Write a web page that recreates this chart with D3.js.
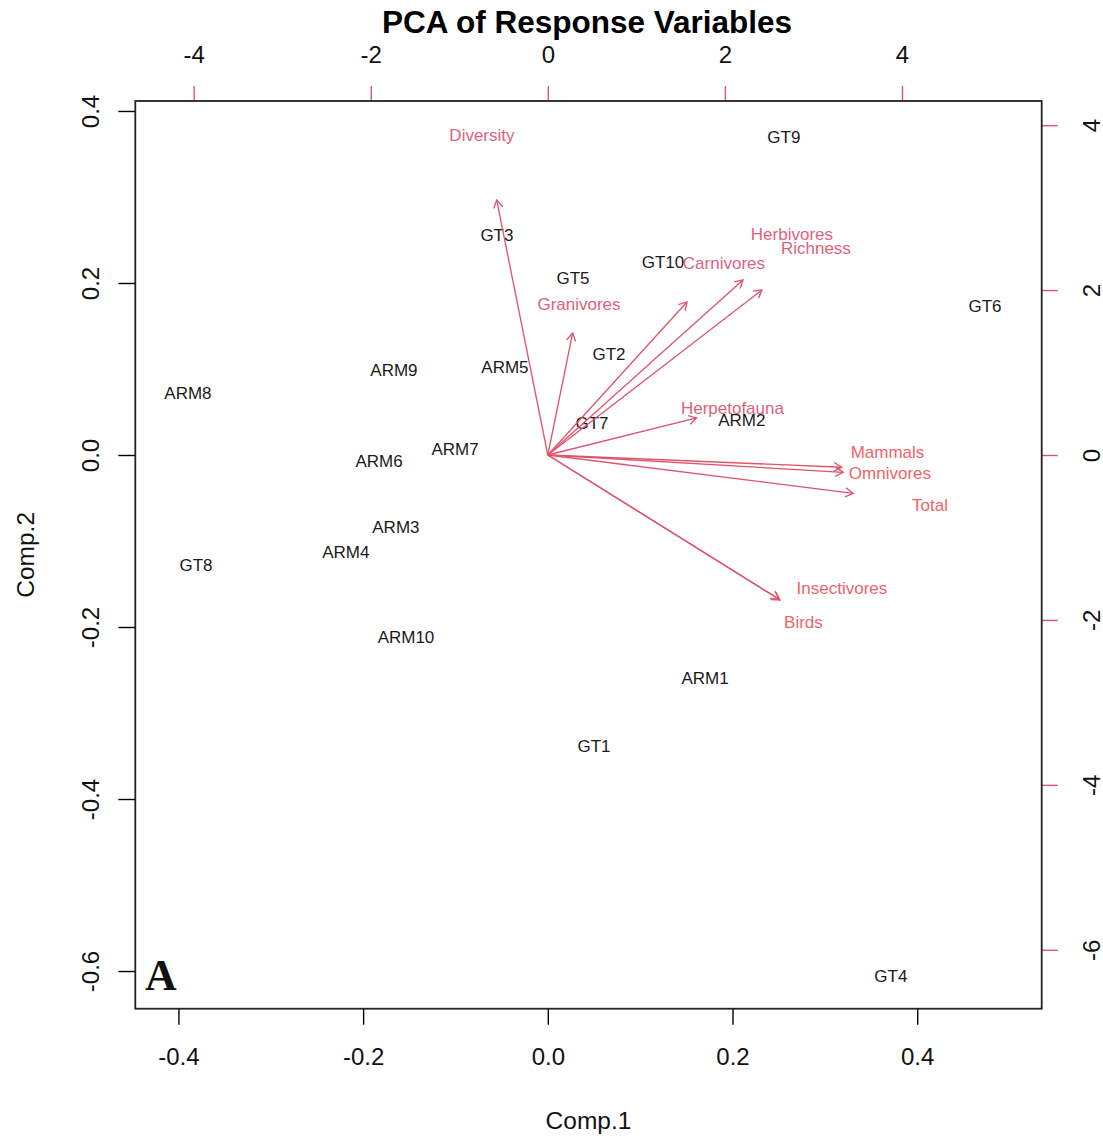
<!DOCTYPE html>
<html><head><meta charset="utf-8">
<script src="https://cdn.jsdelivr.net/npm/d3@7/dist/d3.min.js"></script>
<style>body{margin:0;background:#fff}svg{display:block}</style>
</head><body><svg id="chart" width="1103" height="1139"></svg>
<script>
// ---- data ----
const sites = ["ARM1","ARM2","ARM3","ARM4","ARM5","ARM6","ARM7","ARM8","ARM9","ARM10",
               "GT1","GT2","GT3","GT4","GT5","GT6","GT7","GT8","GT9","GT10"];
const comp1 = [0.1702,0.2101,-0.1645,-0.2187,-0.0464,-0.1828,-0.1005,-0.3897,-0.1666,-0.1536,
               0.0500,0.0662,-0.0551,0.3715,0.0272,0.4734,0.0478,-0.3810,0.2556,0.1247];
const comp2 = [-0.2593,0.0407,-0.0837,-0.1128,0.1023,-0.0070,0.0070,0.0721,0.0988,-0.2116,
               -0.3384,0.1174,0.2560,-0.6058,0.2060,0.1733,0.0372,-0.1279,0.3700,0.2244];
const variables = ["Diversity","Granivores","Carnivores","Herbivores","Richness","Herpetofauna",
                   "Mammals","Omnivores","Total","Insectivores","Birds"];
const loadX = [-0.722,0.351,1.965,2.755,3.023,2.101,4.149,4.171,4.312,3.278,3.264];
const loadY = [3.866,1.850,2.320,2.653,2.502,0.561,-0.186,-0.262,-0.581,-2.198,-2.183];
const varLabelX = [-0.744,0.352,1.989,2.757,3.028,2.085,3.836,3.864,4.316,3.322,2.887];
const varLabelY = [3.881,1.831,2.329,2.680,2.511,0.570,0.040,-0.218,-0.606,-1.613,-2.022];
const varLabelColor = ["#e0627c","#e0627c","#e0627c","#e0627c","#e0627c","#e0627c",
                       "#f06468","#f06468","#f06468","#f06468","#f06468"];
const xTicks = [-0.4,-0.2,0,0.2,0.4];
const yTicks = [0.4,0.2,0,-0.2,-0.4,-0.6];
const x2Ticks = [-4,-2,0,2,4];
const y2Ticks = [4,2,0,-2,-4,-6];
const arrowFrac = 0.8;       // arrows drawn to 0.8 of loading (R biplot)
const ratio = 10.43;         // secondary/primary axis scale ratio
const titleText = "PCA of Response Variables";
const xLabel = "Comp.1", yLabel = "Comp.2", panelTag = "A";

// ---- layout ----
const box = {l:135.3, r:1041.7, t:101, b:1008.7};
const RED = "#df536b";
const FONT = "'Liberation Sans', Arial, sans-serif";
const svg = d3.select("#chart");

const x = d3.scaleLinear().domain([-0.4467, 0.5348]).range([box.l, box.r]);
const y = d3.scaleLinear().domain([0.4116, -0.6438]).range([box.t, box.b]);
const x2 = d3.scaleLinear().domain(x.domain().map(d => d*ratio)).range(x.range());
const y2 = d3.scaleLinear().domain(y.domain().map(d => d*ratio)).range(y.range());

// title
svg.append("text").attr("x", 587).attr("y", 33).attr("text-anchor","middle")
  .attr("font-family", FONT).attr("font-weight","bold").attr("font-size", 31.5)
  .attr("fill","#000").text(titleText);

// axes
function styleAxis(g, color){
  g.select(".domain").remove();
  g.selectAll(".tick line").attr("stroke", color).attr("stroke-width", 1.4);
  g.selectAll(".tick text").attr("font-family", FONT).attr("font-size", 24).attr("fill","#111");
}
const fmt1 = d => d.toFixed(1);
const fmt0 = d => String(d);
const gB = svg.append("g").attr("transform",`translate(0,${box.b})`)
  .call(d3.axisBottom(x).tickValues(xTicks).tickFormat(fmt1).tickSize(16));
styleAxis(gB, "#000");
gB.selectAll(".tick text").attr("y", 48).attr("dy","0.35em");

const gL = svg.append("g").attr("transform",`translate(${box.l},0)`)
  .call(d3.axisLeft(y).tickValues(yTicks).tickFormat(fmt1).tickSize(17));
styleAxis(gL, "#000");
gL.selectAll(".tick text").attr("x",0).attr("dy","0.35em").attr("text-anchor","middle")
  .attr("transform","translate(-45,0) rotate(-90)");

const gT = svg.append("g").attr("transform",`translate(0,${box.t})`)
  .call(d3.axisTop(x2).tickValues(x2Ticks).tickFormat(fmt0).tickSize(15));
styleAxis(gT, RED);
gT.selectAll(".tick text").attr("y", -46).attr("dy","0.35em");

const gR = svg.append("g").attr("transform",`translate(${box.r},0)`)
  .call(d3.axisRight(y2).tickValues(y2Ticks).tickFormat(fmt0).tickSize(16));
styleAxis(gR, RED);
gR.selectAll(".tick text").attr("x",0).attr("dy","0.35em").attr("text-anchor","middle")
  .attr("transform","translate(50,0) rotate(-90)");

// axis titles
svg.append("text").attr("x", (box.l+box.r)/2).attr("y", 1120).attr("dy","0.35em")
  .attr("text-anchor","middle").attr("font-family",FONT).attr("font-size",24.5).attr("fill","#111").text(xLabel);
svg.append("text").attr("transform",`translate(25,${(box.t+box.b)/2}) rotate(-90)`).attr("dy","0.35em")
  .attr("text-anchor","middle").attr("font-family",FONT).attr("font-size",24.5).attr("fill","#111").text(yLabel);

// box
svg.append("rect").attr("x",box.l).attr("y",box.t).attr("width",box.r-box.l).attr("height",box.b-box.t)
  .attr("fill","none").attr("stroke","#222").attr("stroke-width",1.8);

// site labels
svg.append("g").selectAll("text").data(sites).join("text")
  .attr("x",(d,i)=>x(comp1[i])).attr("y",(d,i)=>y(comp2[i])).attr("dy","0.35em")
  .attr("text-anchor","middle").attr("font-family",FONT).attr("font-size",17)
  .attr("fill","#1a1a1a").text(d=>d);

// arrows
const ox = x2(0), oy = y2(0);
const headLen = 9, headAng = Math.PI/6;
const ag = svg.append("g").attr("stroke",RED).attr("stroke-width",1.3).attr("fill","none");
variables.forEach((v,i)=>{
  const tx = x2(loadX[i]*arrowFrac), ty = y2(loadY[i]*arrowFrac);
  ag.append("line").attr("x1",ox).attr("y1",oy).attr("x2",tx).attr("y2",ty);
  const th = Math.atan2(ty-oy, tx-ox);
  const p1 = [tx - headLen*Math.cos(th-headAng), ty - headLen*Math.sin(th-headAng)];
  const p2 = [tx - headLen*Math.cos(th+headAng), ty - headLen*Math.sin(th+headAng)];
  ag.append("path").attr("d",`M${p1[0]},${p1[1]}L${tx},${ty}L${p2[0]},${p2[1]}`);
});

// variable labels
svg.append("g").selectAll("text").data(variables).join("text")
  .attr("x",(d,i)=>x2(varLabelX[i])).attr("y",(d,i)=>y2(varLabelY[i])).attr("dy","0.35em")
  .attr("text-anchor","middle").attr("font-family",FONT).attr("font-size",17)
  .attr("fill",(d,i)=>varLabelColor[i]).text(d=>d);

// panel tag
svg.append("text").attr("x",145).attr("y",990).attr("font-family","'Liberation Serif','Times New Roman',serif")
  .attr("font-weight","bold").attr("font-size",44).attr("fill","#111").text(panelTag);
</script></body></html>
